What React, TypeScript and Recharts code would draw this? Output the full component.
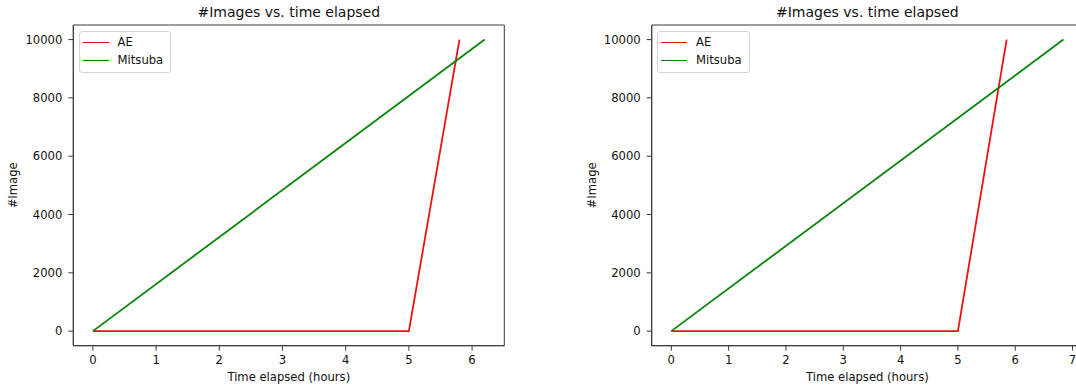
import { LineChart, Line, XAxis, YAxis, Legend, ReferenceArea } from 'recharts'

const FONT = '"DejaVu Sans", sans-serif'
const TEXT = '#111'
const FRAME = '#3a3a3a'

// tick labels
const xTicksLeft = [0, 1, 2, 3, 4, 5, 6]
const xTicksRight = [0, 1, 2, 3, 4, 5, 6, 7]
const yTicks = [0, 2000, 4000, 6000, 8000, 10000]

// left panel
const aeHoursLeft = [0, 5, 5.8]
const aeImagesLeft = [0, 0, 10000]
const mitsubaHoursLeft = [0, 6.2]
const mitsubaImagesLeft = [0, 10000]

// right panel
const aeHoursRight = [0, 5, 5.85]
const aeImagesRight = [0, 0, 10000]
const mitsubaHoursRight = [0, 6.84]
const mitsubaImagesRight = [0, 10000]

const toPoints = (hours: number[], images: number[]) =>
  hours.map((h, i) => ({ hours: h, images: images[i] }))

const YLabel = ({ viewBox }: any) => {
  const x = viewBox.x + viewBox.width - 60
  const y = viewBox.y + viewBox.height / 2
  return (
    <text x={x} y={y} transform={`rotate(-90, ${x}, ${y})`} textAnchor="middle" dominantBaseline="central"
      style={{ fontFamily: FONT, fontSize: 11.6, fill: TEXT }}>
      #Image
    </text>
  )
}

const XLabel = ({ viewBox }: any) => (
  <text x={viewBox.x + viewBox.width / 2} y={viewBox.y + 35.5} textAnchor="middle"
    style={{ fontFamily: FONT, fontSize: 11.6, fill: TEXT }}>
    Time elapsed (hours)
  </text>
)

const renderLegend = ({ payload }: any) => (
  <div style={{
    border: '1px solid #d4d4d4', borderRadius: 3, background: 'rgba(255,255,255,0.8)',
    padding: '1px 7px 2px 3px', fontFamily: FONT, fontSize: 11.6, color: TEXT,
  }}>
    {(payload || []).map((p: any) => (
      <div key={p.value} style={{ display: 'flex', alignItems: 'center', height: 18.3 }}>
        <span style={{ display: 'inline-block', width: 25.6, borderTop: `1.8px solid ${p.color}`, marginRight: 9 }} />
        <span>{p.value}</span>
      </div>
    ))}
  </div>
)

interface PanelProps {
  left: number
  width: number
  yAxisWidth: number
  marginRight: number
  xDomain: [number, number]
  xTicks: number[]
  ae: { hours: number; images: number }[]
  mitsuba: { hours: number; images: number }[]
}

function Panel({ left, width, yAxisWidth, marginRight, xDomain, xTicks, ae, mitsuba }: PanelProps) {
  const plotRight = width - marginRight
  const tickStyle = { fontFamily: FONT, fontSize: 11.6, fill: TEXT }
  return (
    <div style={{ position: 'absolute', left, top: 0, width, height: 385 }}>
      <div style={{
        position: 'absolute', left: yAxisWidth, width: plotRight - yAxisWidth, top: 4,
        textAlign: 'center', fontFamily: FONT, fontSize: 14, lineHeight: '16px', color: TEXT,
      }}>
        #Images vs. time elapsed
      </div>
      <LineChart width={width} height={385} margin={{ top: 25, right: marginRight, bottom: 0, left: 0 }}>
        <XAxis dataKey="hours" type="number" domain={xDomain} allowDataOverflow ticks={xTicks}
          height={39.3} tickSize={5} tickMargin={5} tick={tickStyle}
          stroke={FRAME} label={<XLabel />} />
        <YAxis type="number" domain={[-500, 10500]} allowDataOverflow ticks={yTicks}
          width={yAxisWidth} tickSize={5} tickMargin={6} tick={tickStyle}
          stroke={FRAME} label={<YLabel />} />
        <ReferenceArea x1={xDomain[0]} x2={xDomain[1]} y1={-500} y2={10500}
          fill="none" stroke={FRAME} strokeWidth={1} ifOverflow="visible" />
        <Line data={ae} dataKey="images" name="AE" type="linear" stroke="#ee1111"
          strokeWidth={1.8} dot={false} activeDot={false} isAnimationActive={false} />
        <Line data={mitsuba} dataKey="images" name="Mitsuba" type="linear" stroke="#0a840a"
          strokeWidth={1.8} dot={false} activeDot={false} isAnimationActive={false} />
        <Legend layout="vertical" align="center" verticalAlign="middle" content={renderLegend}
          wrapperStyle={{ left: yAxisWidth + 5.7, top: 31, width: 'auto' }} />
      </LineChart>
    </div>
  )
}

export default function App() {
  return (
    <div style={{ position: 'absolute', left: 0, top: 0, width: 1076, height: 385, overflow: 'hidden', background: '#fff' }}>
      <Panel left={0} width={540} yAxisWidth={73.3} marginRight={35.7}
        xDomain={[-0.31, 6.51]} xTicks={xTicksLeft}
        ae={toPoints(aeHoursLeft, aeImagesLeft)}
        mitsuba={toPoints(mitsubaHoursLeft, mitsubaImagesLeft)} />
      <Panel left={540} width={560} yAxisWidth={111.7} marginRight={17}
        xDomain={[-0.342, 7.182]} xTicks={xTicksRight}
        ae={toPoints(aeHoursRight, aeImagesRight)}
        mitsuba={toPoints(mitsubaHoursRight, mitsubaImagesRight)} />
    </div>
  )
}
